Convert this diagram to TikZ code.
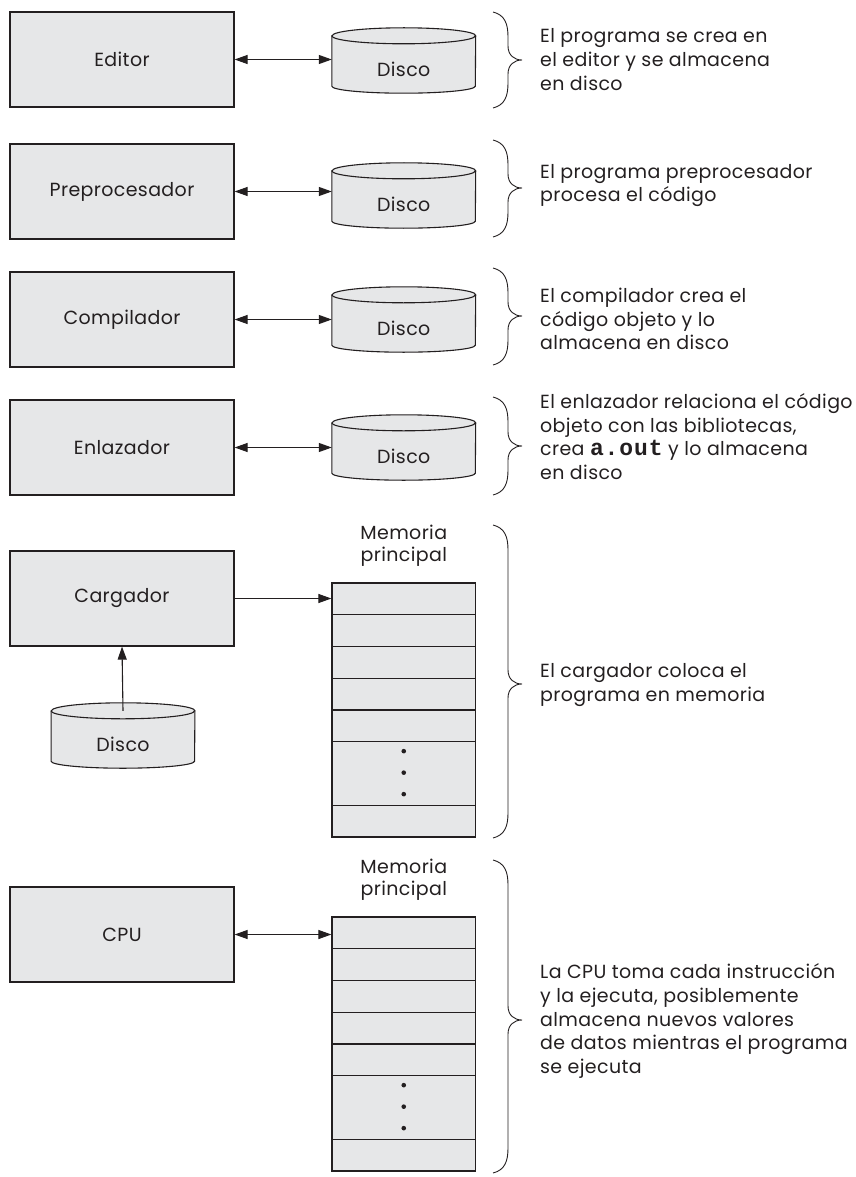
\documentclass[tikz,border=0pt]{standalone}
\usepackage{fontspec}
\setmainfont{Poppins}[LetterSpace=2.0]
\setmonofont{Liberation Mono}
\newfontfamily\codefont{Liberation Mono}[LetterSpace=4]
\usetikzlibrary{arrows.meta,calc}
\definecolor{ink}{HTML}{231F20}
\definecolor{gfill}{HTML}{E6E7E8}
\newcommand\mybrace[3]{%
  \draw[braceline] (493,#1) .. controls (505,#1+3) and (508,#1+12) .. (508,#1+25)
    -- (508,#2-14) .. controls (508,#2-5) and (514,#2) .. (522,#2)
    .. controls (514,#2) and (508,#2+5) .. (508,#2+14)
    -- (508,#3-25) .. controls (508,#3-12) and (505,#3-3) .. (493,#3);}
\newcommand\diskshape[1]{%
  \path[diskline] ([yshift=-8pt]#1.north west) -- ([yshift=7pt]#1.south west)
    arc[start angle=180,end angle=360,x radius=71.75pt,y radius=7pt]
    -- ([yshift=-8pt]#1.north east)
    arc[start angle=0,end angle=180,x radius=71.75pt,y radius=8pt] -- cycle;
  \draw[diskline,fill=none] ([yshift=-8pt]#1.north west)
    arc[start angle=180,end angle=360,x radius=71.75pt,y radius=8pt];}
\begin{document}
\begin{tikzpicture}[x=1pt,y=-1pt,
  txt/.style={text=ink, inner sep=0pt, font=\fontsize{19}{23.7}\selectfont},
  proc/.style={txt, draw=ink, fill=gfill, line width=1.2pt, minimum width=224pt, minimum height=95pt},
  diskarea/.style={inner sep=0pt, minimum width=143.5pt, minimum height=65pt},
  diskline/.style={draw=ink, fill=gfill, line width=1.1pt},
  cell/.style={draw=ink, fill=gfill, line width=1.2pt, inner sep=0pt, minimum width=143.5pt, minimum height=31.75pt},
  desc/.style={txt, anchor=west, align=left},
  conn/.style={draw=ink, line width=1.1pt, -{Triangle[length=13pt,width=9pt]}},
  dconn/.style={draw=ink, line width=1.1pt, {Triangle[length=13pt,width=9pt]}-{Triangle[length=13pt,width=9pt]}},
  braceline/.style={draw=ink, line width=0.9pt}
]
\useasboundingbox (0,0) rectangle (856,1177);

% processing boxes
\node[proc] (ed)  at (122,59.5)  {Editor};
\node[proc] (pre) at (122,191.5) {Preprocesador};
\node[proc] (com) at (122,319.5) {Compilador};
\node[proc] (enl) at (122,447.5) {Enlazador};
\node[proc] (car) at (122,598.5) {Cargador};
\node[proc] (cpu) at (122,934.5) {CPU};

% disks
\node[diskarea] (k1) at (403.75,60.5)  {};
\node[diskarea] (k2) at (403.75,195.5) {};
\node[diskarea] (k3) at (403.75,319.5) {};
\node[diskarea] (k4) at (403.75,447.5) {};
\node[diskarea] (k5) at (123,735.5) {};
\diskshape{k1}\diskshape{k2}\diskshape{k3}\diskshape{k4}\diskshape{k5}
\node[txt] (t1) at ([yshift=-8.5pt]k1.center) {Disco};
\node[txt] (t2) at ([yshift=-8.5pt]k2.center) {Disco};
\node[txt] (t3) at ([yshift=-8.5pt]k3.center) {Disco};
\node[txt] (t4) at ([yshift=-8.5pt]k4.center) {Disco};
\node[txt] (t5) at ([yshift=-8.5pt]k5.center) {Disco};
\coordinate (k5top) at ([yshift=-8pt]k5.north);

% memories
\foreach \k in {0,...,4} \node[cell] (ma\k) at (403.75,{583+31.75*\k+15.875}) {};
\node[cell, minimum height=63.5pt] (ma5) at (403.75,{583+5*31.75+31.75}) {};
\node[cell] (ma6) at (403.75,{583+7*31.75+15.875}) {};
\foreach \k in {0,...,4} \node[cell] (mb\k) at (403.75,{917+31.75*\k+15.875}) {};
\node[cell, minimum height=63.5pt] (mb5) at (403.75,{917+5*31.75+31.75}) {};
\node[cell] (mb6) at (403.75,{917+7*31.75+15.875}) {};
\foreach \d in {10,31.5,53} {
  \fill[ink] ([yshift=-\d pt]ma5.north) circle[radius=2.3pt];
  \fill[ink] ([yshift=-\d pt]mb5.north) circle[radius=2.3pt];
}
\node[txt, align=center, font=\fontsize{19}{22}\selectfont] (la) at (403.75,546) {Memoria\\principal};
\node[txt, align=center, font=\fontsize{19}{22}\selectfont] (lb) at (403.75,880) {Memoria\\principal};

% connectors
\draw[dconn] (ed.east)  -- (ed.east -| k1.west);
\draw[dconn] (pre.east) -- (pre.east -| k2.west);
\draw[dconn] (com.east) -- (com.east -| k3.west);
\draw[dconn] (enl.east) -- (enl.east -| k4.west);
\draw[conn]  (car.east) -- (car.east -| ma0.west);
\draw[conn]  (k5top) -- (car.south);
\draw[dconn] (cpu.east) -- (cpu.east -| mb0.west);

% braces
\mybrace{12}{60}{108}
\mybrace{140}{188}{237}
\mybrace{268}{316}{365}
\mybrace{397}{446}{495}
\mybrace{525}{684}{838}
\mybrace{860}{1020}{1173}

% descriptions
\node[desc] (x1) at (540,59.5) {El programa se crea en\\el editor y se almacena\\en disco};
\node[desc] (x2) at (540,185.5) {El programa preprocesador\\procesa el código};
\node[desc] (x3) at (540,319) {El compilador crea el\\código objeto y lo\\almacena en disco};
\node[desc] (x4) at (540,436.5) {El enlazador relaciona el código\\objeto con las bibliotecas,\\crea {\codefont\bfseries\fontsize{23}{23.7}\selectfont a.out} y lo almacena\\en disco};
\node[desc] (x5) at (540,685) {El cargador coloca el\\programa en memoria};
\node[desc] (x6) at (540,1021) {La CPU toma cada instrucción\\y la ejecuta, posiblemente\\almacena nuevos valores\\de datos mientras el programa\\se ejecuta};
\end{tikzpicture}
\end{document}
